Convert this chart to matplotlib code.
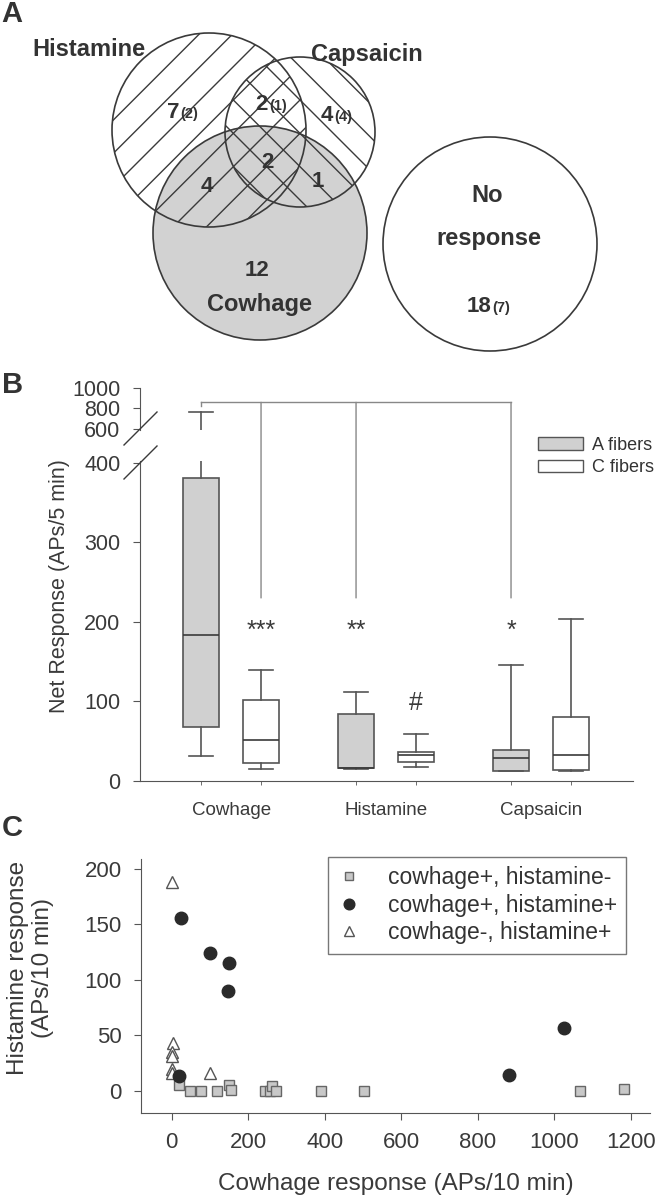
import matplotlib
matplotlib.use("Agg")
import matplotlib.pyplot as plt
from matplotlib.patches import Circle, Patch, ConnectionPatch
from matplotlib.lines import Line2D

plt.rcParams['font.family'] = ['Liberation Sans', 'DejaVu Sans']
plt.rcParams['hatch.color'] = '#3a3a3a'
plt.rcParams['hatch.linewidth'] = 1.0
plt.rcParams['text.color'] = '#333333'

## panel A - venn diagram (pixel layout of the circles)
venn_names = ['Histamine', 'Capsaicin', 'Cowhage', 'No response']
venn_cx = [209, 300, 260, 490]
venn_cy = [130, 132, 233, 244]
venn_r = [97, 75, 107, 107]

## region counts, total and (C fibers)
reg_count = ['7', '2', '4', '2', '4', '1', '12', '18']
reg_paren = ['(2)', '(1)', '(4)', '', '', '', '', '(7)']
reg_x = [179, 268, 333, 267, 207, 318, 257, 491]
reg_y = [118, 110, 121, 168, 192, 187, 276, 312]

## panel B - box stats (A fibers / C fibers per stimulus)
groups = ['Cowhage', 'Histamine', 'Capsaicin']
fibers = ['A fibers', 'C fibers']
a_whislo = [32, 15, 12]
a_q1 = [68, 16, 12.5]
a_med = [184, 16.5, 29]
a_q3 = [381, 84, 39]
a_whishi = [765, 112, 146]
c_whislo = [15, 17, 12]
c_q1 = [23, 24, 14]
c_med = [52, 33, 33]
c_q3 = [102, 36, 80]
c_whishi = [140, 59, 204]
sig_marks = ['***', '**', '*']

## panel C - scatter
sq_x = [19, 47, 76, 118, 150, 156, 243, 256, 263, 272, 390, 503, 1067, 1183]
sq_y = [5, 0, 0, 0, 5, 1, 0, 0, 4, 0, 0, 0, 0, 2]
ci_x = [24, 100, 150, 147, 18, 882, 1024]
ci_y = [156, 124, 115, 90, 13, 14, 57]
tr_x = [0, 4, 0, 0, 0, 0, 100]
tr_y = [188, 43, 35, 31, 20, 16, 16]
scat_labels = ['cowhage+, histamine-', 'cowhage+, histamine+', 'cowhage-, histamine+']

W, H = 658, 1200
fig = plt.figure(figsize=(W / 100, H / 100), dpi=100)
dark = '#3a3a3a'
grey = '#555555'

def fx(px):
    return px / W

def fy(py):
    return 1 - py / H

##### A
axA = fig.add_axes([0, fy(360), 1, 360 / H])
axA.set_xlim(0, W)
axA.set_ylim(360, 0)
axA.axis('off')
fills = ['none', 'none', '#d2d2d2', 'white']
hatches = ['/', '\\', None, None]
for i in range(4):
    if fills[i] != 'none':
        axA.add_patch(Circle((venn_cx[i], venn_cy[i]), venn_r[i], facecolor=fills[i],
                             edgecolor='none', zorder=1))
    if hatches[i]:
        axA.add_patch(Circle((venn_cx[i], venn_cy[i]), venn_r[i], fill=False,
                             hatch=hatches[i], edgecolor=dark, lw=0, zorder=2))
    axA.add_patch(Circle((venn_cx[i], venn_cy[i]), venn_r[i], fill=False,
                         edgecolor=dark, lw=1.2, zorder=3))

lab_x = [89, 367, 260]
lab_y = [50, 55, 305]
for i in range(3):
    axA.text(lab_x[i], lab_y[i], venn_names[i], fontsize=17, fontweight='bold',
             ha='center', va='center', zorder=5)
axA.text(487, 195, 'No', fontsize=17, fontweight='bold', ha='center', va='center', zorder=5)
axA.text(489, 238, 'response', fontsize=17, fontweight='bold', ha='center', va='center', zorder=5)
for i in range(len(reg_count)):
    if reg_paren[i]:
        axA.text(reg_x[i], reg_y[i], reg_count[i], fontsize=16, fontweight='bold',
                 ha='right', va='baseline', zorder=5)
        axA.text(reg_x[i] + 1, reg_y[i], reg_paren[i], fontsize=10.5, fontweight='bold',
                 ha='left', va='baseline', zorder=5)
    else:
        axA.text(reg_x[i], reg_y[i], reg_count[i], fontsize=16, fontweight='bold',
                 ha='center', va='baseline', zorder=5)

##### B
axB = fig.add_axes([fx(140), fy(781), 493 / W, 320 / H])
axBu = fig.add_axes([fx(140), fy(430), 493 / W, 42 / H], sharex=axB)

posA = [g + 1 for g in range(3)]
posC = [g + 1.387 for g in range(3)]
statsA = [dict(whislo=a_whislo[i], q1=a_q1[i], med=a_med[i], q3=a_q3[i], whishi=a_whishi[i])
          for i in range(3)]
statsC = [dict(whislo=c_whislo[i], q1=c_q1[i], med=c_med[i], q3=c_q3[i], whishi=c_whishi[i])
          for i in range(3)]
for ax in (axB, axBu):
    for stats, pos, fc in ((statsA, posA, '#d0d0d0'), (statsC, posC, 'white')):
        ax.bxp(stats, positions=pos, widths=0.232, capwidths=0.15, showfliers=False,
               patch_artist=True,
               boxprops=dict(facecolor=fc, edgecolor=grey, lw=1.2),
               medianprops=dict(color=dark, lw=1.2),
               whiskerprops=dict(color=grey, lw=1.2),
               capprops=dict(color=grey, lw=1.2))

axB.set_xlim(0.606, 3.787)
axB.set_ylim(0, 402)
axBu.set_ylim(590, 1000)
axB.set_yticks([0, 100, 200, 300, 400])
axBu.set_yticks([600, 800, 1000])
for ax in (axB, axBu):
    ax.spines['top'].set_visible(False)
    ax.spines['right'].set_visible(False)
    ax.spines['left'].set_color(grey)
    ax.spines['bottom'].set_color(grey)
    ax.tick_params(axis='y', labelsize=15.5, length=5, color=grey, labelcolor=dark, pad=9)
axBu.spines['bottom'].set_visible(False)
axBu.tick_params(axis='x', which='both', bottom=False, labelbottom=False)
axB.set_xticks([p + 0.195 for p in posA])
axB.set_xticklabels(groups)
axB.set_xticks(posA + posC, minor=True)
axB.tick_params(axis='x', which='major', length=0, labelsize=13.5, labelcolor=dark, pad=15)
axB.tick_params(axis='x', which='minor', length=3, color=grey)
axB.set_ylabel('Net Response (APs/5 min)', fontsize=15.5, color=dark)
axB.yaxis.set_label_coords(-0.142, 0.61)

## axis break marks
for y0 in (445, 479):
    fig.add_artist(Line2D([fx(124), fx(157)], [fy(y0), fy(y0 - 33)], color=dark, lw=1.0))

## significance bracket from cowhage A fibers
br_y = 860
low_y = 230
axBu.plot([posA[0], posA[2]], [br_y, br_y], color='#888888', lw=1.0, clip_on=False)
axBu.plot([posA[0], posA[0]], [br_y, 820], color='#888888', lw=1.0, clip_on=False)
for xp in (posC[0], posA[1], posA[2]):
    fig.add_artist(ConnectionPatch(xyA=(xp, br_y), coordsA=axBu.transData,
                                   xyB=(xp, low_y), coordsB=axB.transData,
                                   color='#888888', lw=1.0))
for xp, s in zip((posC[0], posA[1], posA[2]), sig_marks):
    axB.text(xp, 188, s, fontsize=18, ha='center', va='center', color=dark)
axB.text(posC[1], 98, '#', fontsize=18, ha='center', va='center', color=dark)

fig.legend([Patch(facecolor='#d0d0d0', edgecolor=grey), Patch(facecolor='white', edgecolor=grey)],
           fibers, loc='upper left', bbox_to_anchor=(fx(538), fy(437)), frameon=False,
           fontsize=13, handlelength=2.5, handleheight=0.7, handletextpad=0.5,
           labelspacing=0.3, borderpad=0, borderaxespad=0)

##### C
axC = fig.add_axes([fx(141), fy(1113), 509 / W, 254 / H])
axC.plot(sq_x, sq_y, 's', ms=7.5, mfc='#c8c8c8', mec='#666666', mew=1.0, ls='none',
         label=scat_labels[0], zorder=3)
axC.plot(ci_x, ci_y, 'o', ms=9, mfc='#2a2a2a', mec='#2a2a2a', ls='none',
         label=scat_labels[1], zorder=4)
axC.plot(tr_x, tr_y, '^', ms=8, mfc='white', mec='#555555', mew=1.0, ls='none',
         label=scat_labels[2], zorder=3)
axC.set_xlim(-80, 1250)
axC.set_ylim(-20, 209)
axC.set_xticks([0, 200, 400, 600, 800, 1000, 1200])
axC.set_yticks([0, 50, 100, 150, 200])
axC.spines['top'].set_visible(False)
axC.spines['right'].set_visible(False)
axC.spines['left'].set_color(grey)
axC.spines['bottom'].set_color(grey)
axC.tick_params(labelsize=16, length=5, color=grey, labelcolor=dark, pad=9)
axC.set_xlabel('Cowhage response (APs/10 min)', fontsize=17.5, color=dark, labelpad=14)
axC.set_ylabel('Histamine response\n(APs/10 min)', fontsize=17.5, color=dark)
axC.yaxis.set_label_coords(-0.17, 0.57)
leg = axC.legend(loc='upper left', bbox_to_anchor=(fx(328), fy(857)),
                 bbox_transform=fig.transFigure, fontsize=16.5, markerscale=0.85,
                 fancybox=False, edgecolor=grey, handlelength=1.0, handletextpad=1.2,
                 labelspacing=0.2, borderpad=0.4, borderaxespad=0)
leg.get_frame().set_linewidth(1.0)

## panel letters
fig.text(fx(12), fy(14), 'A', fontsize=21, fontweight='bold', ha='center', va='center')
fig.text(fx(13), fy(385), 'B', fontsize=21, fontweight='bold', ha='center', va='center')
fig.text(fx(12), fy(828), 'C', fontsize=21, fontweight='bold', ha='center', va='center')

fig.savefig('out.png', dpi=100)
